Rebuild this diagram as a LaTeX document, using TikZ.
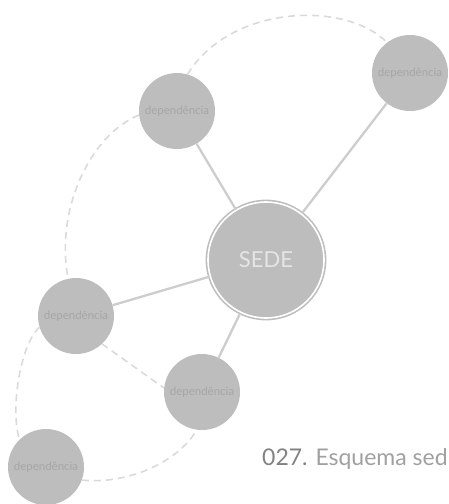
\documentclass[tikz,border=0pt]{standalone}
\usepackage{fontspec}
\setmainfont{Lato}
\usetikzlibrary{positioning,calc}
\definecolor{nodeGray}{RGB}{189,189,189}
\definecolor{lineGray}{RGB}{205,205,205}
\definecolor{dashGray}{RGB}{218,218,218}
\definecolor{labelGray}{RGB}{166,166,166}
\definecolor{captionDark}{RGB}{130,130,130}
\definecolor{captionGray}{RGB}{160,160,160}
\tikzstyle{branchVertex}=[fill=nodeGray,circle,minimum size=76pt,inner sep=0pt,text=labelGray,font=\fontsize{11.5}{11.5}\selectfont]
\tikzstyle{sedeVertex}  =[fill=nodeGray,draw=nodeGray,double=white,double distance=1.6pt,line width=1.6pt,circle,minimum size=116pt,inner sep=0pt,text=white!90!black,font=\fontsize{22}{22}\selectfont]
\tikzstyle{solidLink}   =[draw=lineGray,line width=2.3pt]
\tikzstyle{dashLink}    =[draw=dashGray,line width=1.6pt,dash pattern=on 7pt off 5pt]

\begin{document}
\begin{tikzpicture}[x=1pt,y=-1pt]
\useasboundingbox (0,0) rectangle (449,504);
\node [sedeVertex] (sede) at (266,260) {SEDE};
\node [branchVertex] (a) at (177,111) {dependência};
\node [branchVertex] (b) at (410,73) {dependência};
\node [branchVertex] (c) at (76,316) {dependência};
\node [branchVertex] (d) at (202,392) {dependência};
\node [branchVertex] (e) at (46,467) {dependência};
\draw [solidLink] (sede) -- (a);
\draw [solidLink] (sede) -- (b);
\draw [solidLink] (sede) -- (c);
\draw [solidLink] (sede) -- (d);
\draw [dashLink] (a.74) .. controls (230,5) and (345,0) .. (b.127);
\draw [dashLink] (a.186) .. controls (90,135) and (55,210) .. (c.102);
\draw [dashLink] (c.-47) -- (d.174);
\draw [dashLink] (c.197) .. controls (20,345) and (10,410) .. (e.134);
\draw [dashLink] (e.-20) .. controls (130,485) and (180,460) .. (d.262);
\node [anchor=base west,inner sep=0pt,font=\fontsize{23}{23}\selectfont] (caption) at (262,465)
	{\textcolor{captionDark}{027.} \textcolor{captionGray}{Esquema sed}};
\end{tikzpicture}
\end{document}
